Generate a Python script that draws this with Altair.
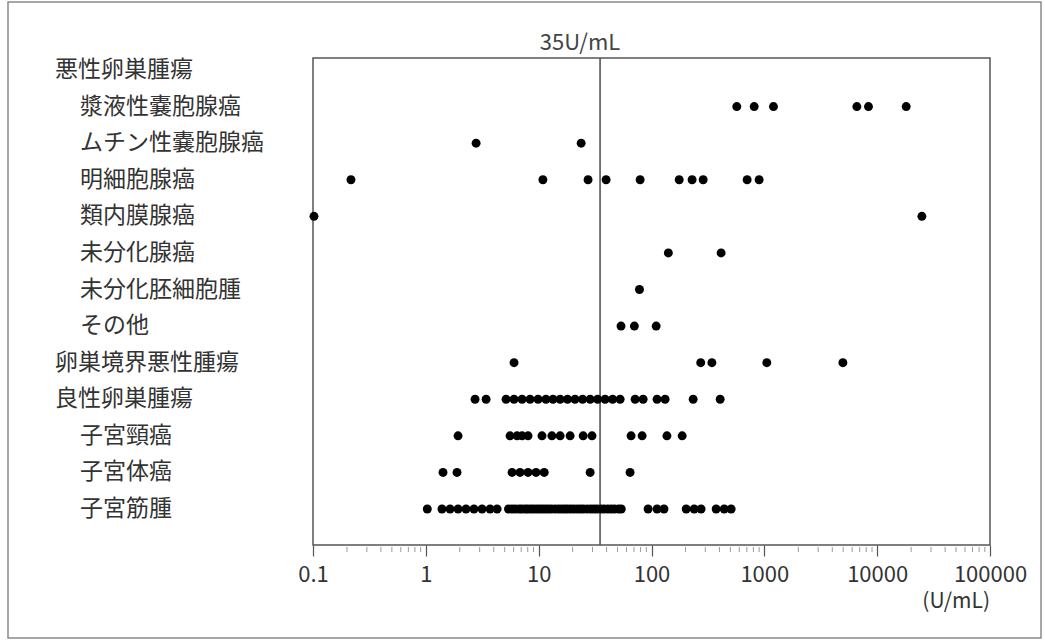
import altair as alt
import pandas as pd

FONT = "Noto Sans CJK JP"

categories = [
    "悪性卵巣腫瘍", "漿液性嚢胞腺癌", "ムチン性嚢胞腺癌", "明細胞腺癌", "類内膜腺癌",
    "未分化腺癌", "未分化胚細胞腫", "その他", "卵巣境界悪性腫瘍", "良性卵巣腫瘍",
    "子宮頸癌", "子宮体癌", "子宮筋腫",
]
indented = [False, True, True, True, True, True, True, True, False, False, True, True, True]

serous = [570, 813, 1205, 6607, 8375, 18080]
mucinous = [2.79, 23.8]
clear_cell = [0.217, 10.9, 27.4, 39.6, 79.3, 176, 229, 287, 704, 899]
endometrioid = [0.102, 24900]
undifferentiated = [141, 414]
dysgerminoma = [78.2]
other = [53.7, 70.5, 110]
borderline = [6.05, 273, 343, 1052, 4966]
benign = [2.73, 3.42, 5.14, 6.05, 7.13, 8.39, 9.88, 11.6, 13.4, 15.5, 18.0, 21.0,
          24.5, 28.6, 33.3, 38.8, 45.2, 52.7, 71.6, 84.3, 112, 132, 234, 406]
cervical = [1.93, 5.58, 6.44, 7.13, 8.05, 10.7, 13.1, 15.5, 19.0, 24.8, 29.7,
            65.9, 82.6, 137, 187]
endometrial = [1.42, 1.89, 5.81, 6.84, 8.05, 9.48, 11.2, 28.6, 64.6]
myoma = [1.03, 1.39, 1.64, 1.93, 2.27, 2.67, 3.15, 3.71, 4.28,
         5.4, 5.8, 6.2, 6.7, 7.1, 7.6, 8.0, 8.5, 9.0, 9.6, 10.2, 10.8, 11.5, 12.2,
         13.0, 14.0, 15.0, 16.0, 17.0, 18.0, 19.2, 20.5, 22.0, 23.5, 25.0, 27.0,
         29.0, 31.0, 33.0, 35.5, 38.0, 41.0, 44.0, 47.0, 51.0, 54.0,
         93.3, 112, 129, 203, 239, 275, 374, 441, 508]

series = {
    "漿液性嚢胞腺癌": serous, "ムチン性嚢胞腺癌": mucinous, "明細胞腺癌": clear_cell,
    "類内膜腺癌": endometrioid, "未分化腺癌": undifferentiated, "未分化胚細胞腫": dysgerminoma,
    "その他": other, "卵巣境界悪性腫瘍": borderline, "良性卵巣腫瘍": benign,
    "子宮頸癌": cervical, "子宮体癌": endometrial, "子宮筋腫": myoma,
}

cutoff = 35
major_ticks = [0.1, 1, 10, 100, 1000, 10000, 100000]
minor_ticks = [t * m for t in major_ticks[:-1] for m in range(2, 10)]

points = pd.DataFrame([{"cat": c, "value": v} for c, vals in series.items() for v in vals])
labels = pd.DataFrame({"cat": categories, "indent": indented})

W, H = 677, 487

xscale = alt.Scale(type="log", domain=[0.1, 100000], nice=False)
yenc = alt.Y("cat:N", scale=alt.Scale(type="point", domain=categories, range=[12, 451], padding=0),
             axis=None)

border = alt.Chart(alt.Data(values=[{"a": 1}])).mark_rect(
    filled=False, stroke="#8a8a8a", strokeWidth=1.5
).encode(x=alt.value(-305), x2=alt.value(728), y=alt.value(-56), y2=alt.value(580))

cut_df = pd.DataFrame({"value": [cutoff]})
cut_rule = alt.Chart(cut_df).mark_rule(color="#555555", strokeWidth=1.6).encode(
    x=alt.X("value:Q", scale=xscale), y=alt.value(0), y2=alt.value(H)
)
cut_text = alt.Chart(cut_df).mark_text(
    text="35U/mL", font=FONT, fontSize=22, color="#444444", align="center", baseline="middle", dx=-20
).encode(x=alt.X("value:Q", scale=xscale), y=alt.value(-15))

minor = alt.Chart(pd.DataFrame({"value": minor_ticks})).mark_rule(color="#9a9a9a", strokeWidth=1).encode(
    x=alt.X("value:Q", scale=xscale), y=alt.value(H + 2), y2=alt.value(H + 7)
)

dots = alt.Chart(points).mark_circle(size=80, color="black", opacity=1).encode(
    x=alt.X("value:Q", scale=xscale, title=None,
            axis=alt.Axis(values=major_ticks, domain=False, grid=False, tickSize=11,
                          tickColor="#555555", tickWidth=1.2, labelPadding=8,
                          labelFont=FONT, labelFontSize=22, labelColor="#333333",
                          labelExpr="datum.value < 1 ? '0.1' : format(datum.value, 'd')",
                          labelFlush=False, labelOverlap=False)),
    y=yenc,
)

head_labels = alt.Chart(labels).transform_filter("!datum.indent").mark_text(
    font=FONT, fontSize=23, color="#333333", align="left", baseline="middle"
).encode(x=alt.value(-258), y=yenc, text="cat:N")
sub_labels = alt.Chart(labels).transform_filter("datum.indent").mark_text(
    font=FONT, fontSize=23, color="#333333", align="left", baseline="middle"
).encode(x=alt.value(-233), y=yenc, text="cat:N")

unit = alt.Chart(alt.Data(values=[{"a": 1}])).mark_text(
    text="(U/mL)", font=FONT, fontSize=21, color="#333333", align="right", baseline="middle"
).encode(x=alt.value(W), y=alt.value(H + 57))

chart = alt.layer(border, minor, cut_rule, cut_text, dots, head_labels, sub_labels, unit).properties(
    width=W, height=H,
    autosize=alt.AutoSizeParams(type="none"),
    padding={"left": 313, "top": 58, "right": 55, "bottom": 96},
    background="white",
).configure_view(stroke="#555555", strokeWidth=1.5)

chart.save("out.html", embed_options={"renderer": "svg", "actions": False})
